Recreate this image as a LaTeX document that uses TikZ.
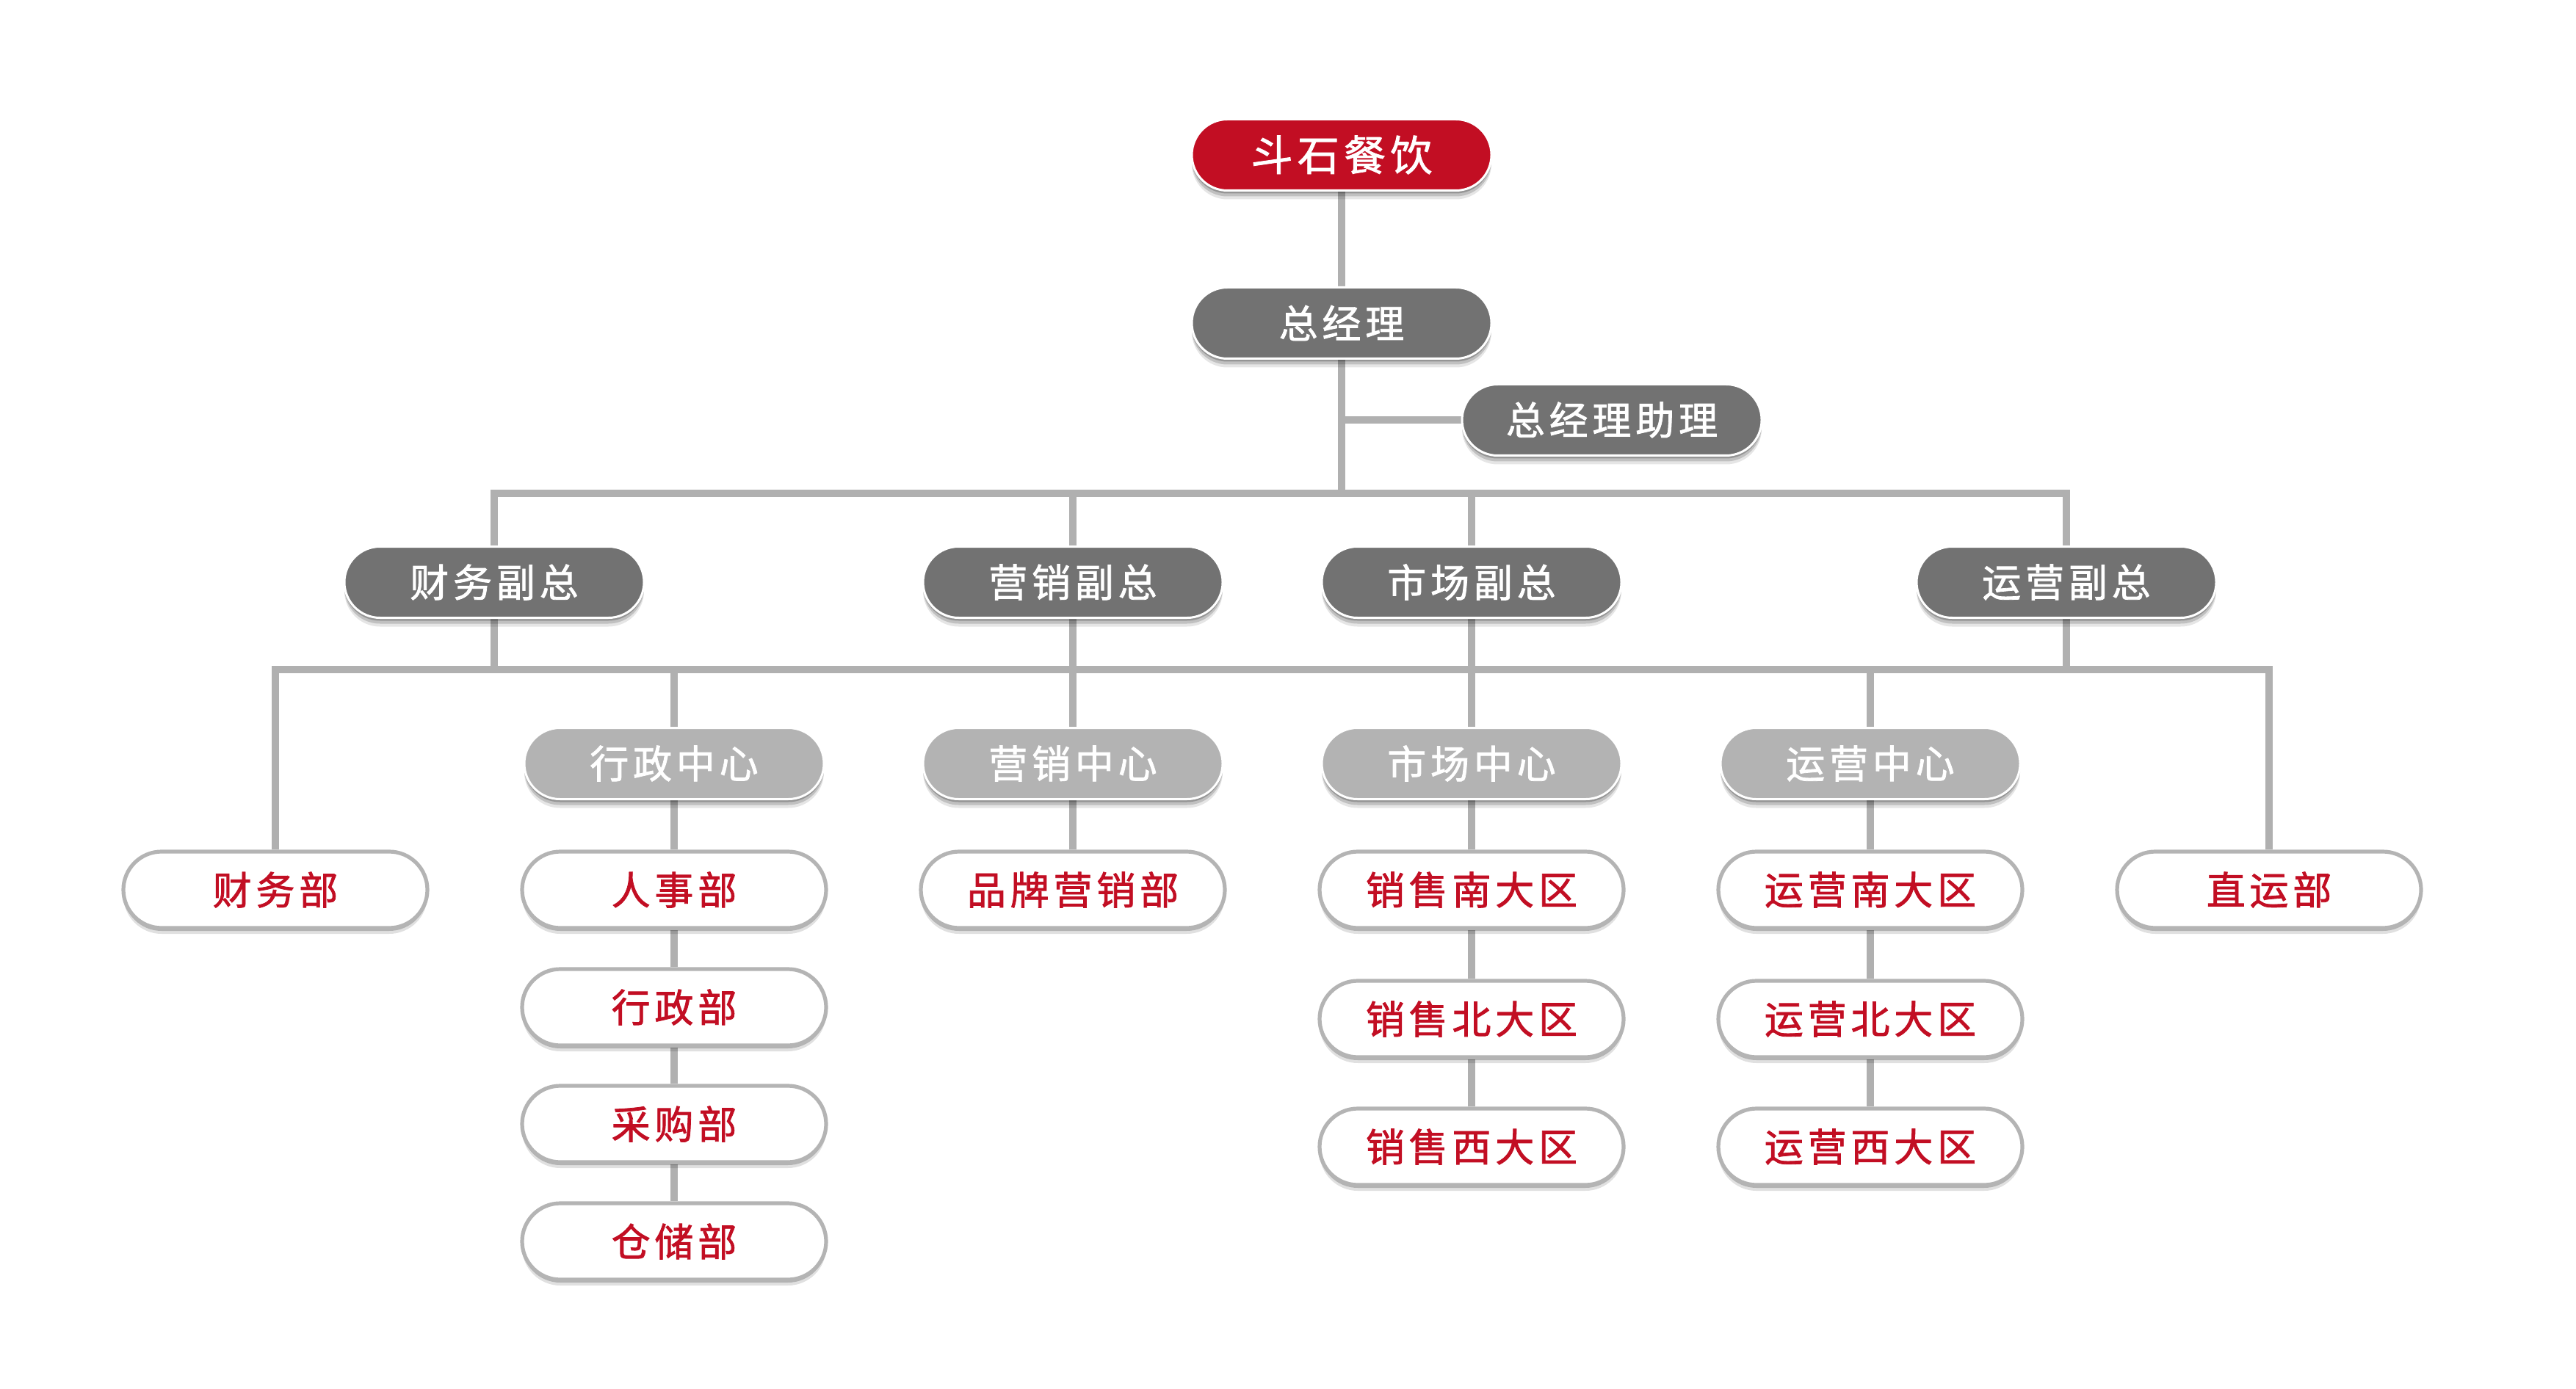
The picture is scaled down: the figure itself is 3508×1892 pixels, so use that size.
\documentclass[tikz,border=0pt]{standalone}
\usepackage{fontspec}
\setmainfont{Noto Sans CJK SC}[LetterSpace=11,FakeBold=1.5]
\usetikzlibrary{shapes.misc,shadows,backgrounds}
\definecolor{brandred}{HTML}{C20E23}
\definecolor{darkbox}{HTML}{727272}
\definecolor{lightbox}{HTML}{B3B3B3}
\definecolor{linegray}{HTML}{B0B0B0}
\definecolor{rimgray}{HTML}{B4B4B4}
\begin{document}
\begin{tikzpicture}[x=0.25pt,y=-0.25pt,
  pill/.style={rounded rectangle, inner sep=0pt, align=center},
  gshadow/.style={
    drop shadow={shadow xshift=0pt,shadow yshift=-1pt,opacity=.22,fill=black},
    drop shadow={shadow xshift=0pt,shadow yshift=-2pt,opacity=.16,fill=black},
    drop shadow={shadow xshift=0pt,shadow yshift=-3pt,opacity=.10,fill=black}},
  wshadow/.style={
    drop shadow={shadow xshift=0pt,shadow yshift=-1pt,opacity=.20,fill=black},
    drop shadow={shadow xshift=0pt,shadow yshift=-2pt,opacity=.12,fill=black}},
  gbox/.style={pill, gshadow, fill=darkbox, draw=white, line width=0.75pt,
    minimum width=102pt, minimum height=24.25pt, text=white,
    font=\fontsize{13.25pt}{15pt}\selectfont},
  topbox/.style={gbox, fill=brandred, font=\fontsize{14.25pt}{16pt}\selectfont},
  cbox/.style={gbox, fill=lightbox},
  dbox/.style={pill, wshadow, fill=white, draw=rimgray, line width=1.3pt,
    minimum width=103.5pt, minimum height=26pt, text=brandred,
    font=\fontsize{13.25pt}{15pt}\selectfont},
  conn/.style={draw=linegray, line width=2.35pt}]
\useasboundingbox (0,0) rectangle (3508,1892);

\coordinate (b1) at (0,672);
\coordinate (b2) at (0,912);

\node[topbox] (top) at (1827,211) {斗石餐饮};
\node[gbox] (gm) at (1827,440) {总经理};
\node[gbox] (asst) at (2195,572) {总经理助理};

\node[gbox] (vpf) at (673,793) {财务副总};
\node[gbox] (vpm) at (1461,793) {营销副总};
\node[gbox] (vps) at (2004,793) {市场副总};
\node[gbox] (vpo) at (2814,793) {运营副总};

\node[cbox] (cadm) at (918,1040) {行政中心};
\node[cbox] (cmkt) at (1461,1040) {营销中心};
\node[cbox] (csal) at (2004,1040) {市场中心};
\node[cbox] (cops) at (2547,1040) {运营中心};

\node[dbox] (dfin) at (375,1212) {财务部};
\node[dbox] (dhr) at (918,1212) {人事部};
\node[dbox] (dadm) at (918,1372) {行政部};
\node[dbox] (dpur) at (918,1531) {采购部};
\node[dbox] (dwh) at (918,1691) {仓储部};
\node[dbox] (dbrand) at (1461,1212) {品牌营销部};
\node[dbox] (ds1) at (2004,1212) {销售南大区};
\node[dbox] (ds2) at (2004,1388) {销售北大区};
\node[dbox] (ds3) at (2004,1562) {销售西大区};
\node[dbox] (do1) at (2547,1212) {运营南大区};
\node[dbox] (do2) at (2547,1388) {运营北大区};
\node[dbox] (do3) at (2547,1562) {运营西大区};
\node[dbox] (ddir) at (3090,1212) {直运部};

\begin{scope}[on background layer]
  \fill[white] (0,0) rectangle (3508,1892);
  \draw[conn] (top.south) -- (gm.north);
  \draw[conn] (gm.south) -- (gm.south |- b1);
  \draw[conn] (gm.south |- asst) -- (asst.west);
  \draw[conn] (vpf.north) |- (gm.south |- b1) -| (vpo.north);
  \draw[conn] (vpm.north) -- (vpm.north |- b1);
  \draw[conn] (vps.north) -- (vps.north |- b1);
  \draw[conn] (dfin.north) |- (vpf.south |- b2) -| (ddir.north);
  \foreach \v in {vpf,vpm,vps,vpo} \draw[conn] (\v.south) -- (\v.south |- b2);
  \foreach \c in {cadm,cmkt,csal,cops} \draw[conn] (\c.north) -- (\c.north |- b2);
  \draw[conn] (cadm.south) -- (dhr.north);
  \draw[conn] (dhr.south) -- (dadm.north);
  \draw[conn] (dadm.south) -- (dpur.north);
  \draw[conn] (dpur.south) -- (dwh.north);
  \draw[conn] (cmkt.south) -- (dbrand.north);
  \draw[conn] (csal.south) -- (ds1.north);
  \draw[conn] (ds1.south) -- (ds2.north);
  \draw[conn] (ds2.south) -- (ds3.north);
  \draw[conn] (cops.south) -- (do1.north);
  \draw[conn] (do1.south) -- (do2.north);
  \draw[conn] (do2.south) -- (do3.north);
\end{scope}
\end{tikzpicture}
\end{document}
